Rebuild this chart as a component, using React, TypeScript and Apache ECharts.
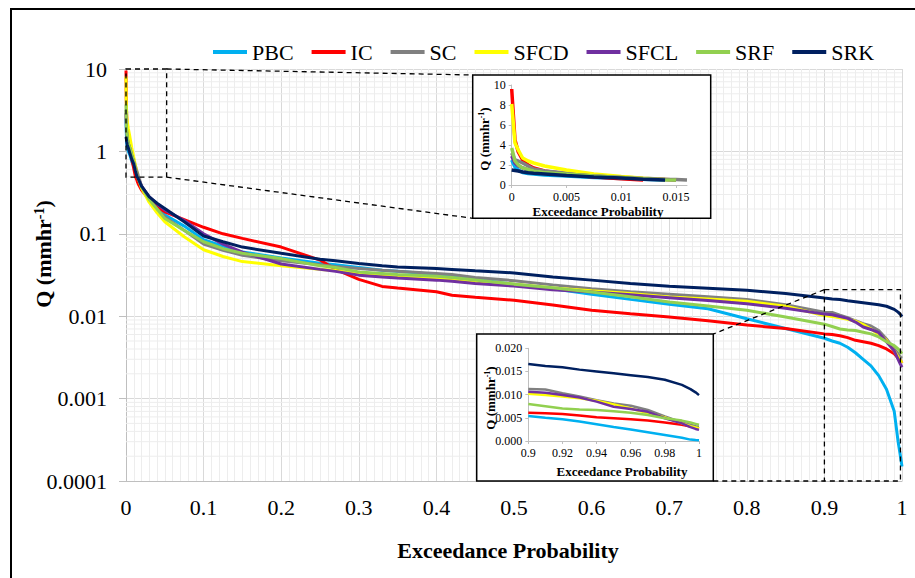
import React, { useEffect, useRef } from 'react';
import * as echarts from 'echarts';

// Flow duration curves: exceedance probability vs. discharge Q (mm/hr)
const SERIES_NAMES = ['PBC', 'IC', 'SC', 'SFCD', 'SFCL', 'SRF', 'SRK'];
const SERIES_COLORS = ['#00B0F0', '#FF0000', '#808080', '#FFFF00', '#7030A0', '#92D050', '#002060'];

const prob = [
  0, 0.0003, 0.0006, 0.001, 0.0015, 0.002, 0.003, 0.005, 0.0075, 0.01,
  0.012, 0.014, 0.015, 0.016, 0.02, 0.03, 0.04, 0.05, 0.075, 0.1,
  0.125, 0.15, 0.2, 0.25, 0.27, 0.3, 0.33, 0.35, 0.4, 0.42,
  0.45, 0.5, 0.55, 0.6, 0.65, 0.7, 0.75, 0.8, 0.85, 0.9,
  0.91, 0.92, 0.93, 0.94, 0.95, 0.96, 0.97, 0.98, 0.99, 0.995,
  0.998, 1.0,
];

const qPBC = [
  2.5, 1.8, 1.5, 1.25, 1.15, 1.1, 1.0, 0.9, 0.75, 0.66,
  0.57, 0.5, 0.48, 0.46, 0.37, 0.27, 0.22, 0.17, 0.124, 0.085,
  0.071, 0.06, 0.051, 0.044, 0.042, 0.039, 0.036, 0.035, 0.032, 0.0305,
  0.028, 0.0245, 0.0215, 0.0185, 0.016, 0.014, 0.0123, 0.0093, 0.0071, 0.0054,
  0.005, 0.0047, 0.0042, 0.0036, 0.003, 0.0025, 0.0019, 0.0013, 0.0007, 0.0003,
  0.0002, 0.00015,
];
const qIC = [
  9.6, 4.5, 3.3, 2.5, 2.0, 1.7, 1.4, 1.1, 0.8, 0.62,
  0.5, 0.45, 0.42, 0.4, 0.34, 0.26, 0.21, 0.185, 0.149, 0.12,
  0.1, 0.088, 0.069, 0.048, 0.037, 0.028, 0.023, 0.022, 0.0198, 0.018,
  0.017, 0.0156, 0.0137, 0.0118, 0.0107, 0.0098, 0.0088, 0.0078, 0.0071, 0.0061,
  0.006, 0.0058, 0.0055, 0.0051, 0.0049, 0.0047, 0.0044, 0.004, 0.0035, 0.0031,
  0.0029, 0.0027,
];
const qSC = [
  3.2, 2.5, 2.4, 2.2, 1.9, 1.6, 1.4, 1.2, 0.95, 0.8,
  0.67, 0.58, 0.54, 0.5, 0.38, 0.25, 0.2, 0.16, 0.11, 0.075,
  0.063, 0.055, 0.047, 0.042, 0.04, 0.038, 0.036, 0.035, 0.033, 0.032,
  0.0295, 0.027, 0.024, 0.0216, 0.0198, 0.0185, 0.0172, 0.0159, 0.0138, 0.0112,
  0.0111, 0.0103, 0.0096, 0.0088, 0.0081, 0.0076, 0.0067, 0.0053, 0.004, 0.0035,
  0.0032, 0.0031,
];
const qSFCD = [
  8.1, 4.2, 3.5, 2.7, 2.4, 2.2, 1.9, 1.5, 1.1, 0.85,
  0.68, 0.56, 0.5, 0.47, 0.36, 0.24, 0.18, 0.14, 0.092, 0.064,
  0.053, 0.046, 0.041, 0.037, 0.036, 0.0325, 0.031, 0.03, 0.0285, 0.028,
  0.0265, 0.0245, 0.022, 0.0203, 0.0188, 0.0171, 0.0162, 0.0152, 0.0132, 0.0102,
  0.0099, 0.0096, 0.0092, 0.0087, 0.0079, 0.007, 0.006, 0.0051, 0.0038, 0.0032,
  0.0029, 0.0027,
];
const qSFCL = [
  2.9, 2.2, 1.9, 1.7, 1.5, 1.4, 1.25, 1.1, 0.9, 0.75,
  0.63, 0.55, 0.5, 0.47, 0.38, 0.28, 0.23, 0.195, 0.145, 0.1,
  0.075, 0.06, 0.043, 0.037, 0.035, 0.0315, 0.03, 0.029, 0.0274, 0.0265,
  0.025, 0.0232, 0.021, 0.0197, 0.0182, 0.0168, 0.0155, 0.0142, 0.0125, 0.0106,
  0.0104, 0.0099, 0.0094, 0.0085, 0.0074, 0.0069, 0.0063, 0.0049, 0.0038, 0.003,
  0.0026, 0.0024,
];
const qSRF = [
  3.7, 2.4, 2.0, 1.7, 1.55, 1.4, 1.25, 1.1, 0.9, 0.75,
  0.62, 0.52, 0.49, 0.46, 0.37, 0.26, 0.2, 0.153, 0.11, 0.08,
  0.066, 0.058, 0.05, 0.041, 0.039, 0.0345, 0.033, 0.032, 0.0305, 0.0295,
  0.0275, 0.0245, 0.0222, 0.0197, 0.0172, 0.0149, 0.0133, 0.0118, 0.0098, 0.008,
  0.0075, 0.007, 0.0068, 0.0067, 0.0064, 0.0061, 0.0056, 0.0049, 0.0044, 0.004,
  0.0037, 0.0035,
];
const qSRK = [
  1.5, 1.45, 1.4, 1.3, 1.22, 1.17, 1.1, 0.95, 0.8, 0.7,
  0.58, 0.5, 0.48, 0.46, 0.38, 0.28, 0.235, 0.203, 0.14, 0.094,
  0.08, 0.069, 0.058, 0.049, 0.047, 0.0435, 0.041, 0.0395, 0.038, 0.037,
  0.0355, 0.0335, 0.03, 0.0274, 0.025, 0.0231, 0.0218, 0.0206, 0.0188, 0.0166,
  0.0162, 0.0159, 0.0154, 0.015, 0.0146, 0.0142, 0.0138, 0.0132, 0.0121, 0.0112,
  0.0105, 0.0099,
];
const SERIES_Q = [qPBC, qIC, qSC, qSFCD, qSFCL, qSRF, qSRK];

// Axis ranges and tick labels
const MAIN_Y_RANGE = [0.0001, 10];
const MAIN_X_TICKS = [0, 0.1, 0.2, 0.3, 0.4, 0.5, 0.6, 0.7, 0.8, 0.9, 1];
const HIGH_X_TICKS = [0, 0.005, 0.01, 0.015];
const HIGH_Y_TICKS = [0, 2, 4, 6, 8, 10];
const LOW_X_TICKS = [0.9, 0.92, 0.94, 0.96, 0.98, 1];
const LOW_Y_TICKS = [0, 0.005, 0.01, 0.015, 0.02];

// Zoomed windows: [pMin, pMax, qMin, qMax]
const HIGH_FLOW_WINDOW = [0, 0.0524, 0.487, 10];
const LOW_FLOW_WINDOW = [0.9, 0.998, 0.0001, 0.021];

const FONT = "'Liberation Serif', 'Times New Roman', Times, serif";
const AXIS_GRAY = '#bfbfbf';

const pairs = (q: number[]) => prob.map((p, i) => [p, q[i]]);

export default function App() {
  const ref = useRef<HTMLDivElement>(null);

  useEffect(() => {
    if (!ref.current) return;
    const chart = echarts.init(ref.current, undefined, { renderer: 'svg' });

    const minorLog: number[][] = [];
    for (let e = -4; e < 1; e++) {
      for (let m = 2; m <= 9; m++) minorLog.push([0, m * Math.pow(10, e)]);
    }

    const fmt = (v: number, d: number) => String(parseFloat(Number(v).toFixed(d)));

    const mainSeries = SERIES_NAMES.map((name, i) => ({
      name,
      type: 'line',
      xAxisIndex: 0,
      yAxisIndex: 0,
      data: pairs(SERIES_Q[i]),
      symbol: 'none',
      showSymbol: false,
      lineStyle: { color: SERIES_COLORS[i], width: 3 },
      itemStyle: { color: SERIES_COLORS[i] },
      z: 3,
    }));
    const highSeries = SERIES_NAMES.map((name, i) => ({
      name,
      type: 'line',
      xAxisIndex: 1,
      yAxisIndex: 1,
      data: pairs(SERIES_Q[i]).filter(([p, q]) => p <= 0.016 && q >= 0.49),
      symbol: 'none',
      showSymbol: false,
      lineStyle: { color: SERIES_COLORS[i], width: 3.5 },
      itemStyle: { color: SERIES_COLORS[i] },
      z: 22,
    }));
    const lowSeries = SERIES_NAMES.map((name, i) => ({
      name,
      type: 'line',
      xAxisIndex: 2,
      yAxisIndex: 2,
      data: pairs(SERIES_Q[i]).filter(([p]) => p >= 0.9),
      symbol: 'none',
      showSymbol: false,
      lineStyle: { color: SERIES_COLORS[i], width: 2.5 },
      itemStyle: { color: SERIES_COLORS[i] },
      z: 22,
    }));

    const insetAxisCommon = {
      z: 20,
      axisLine: { show: true, lineStyle: { color: AXIS_GRAY, width: 1 } },
      axisTick: { show: true, length: 3, lineStyle: { color: AXIS_GRAY } },
      splitLine: { show: false },
    };
    const insetLabel = { fontFamily: FONT, fontSize: 12, color: '#000' };

    chart.setOption({
      animation: false,
      backgroundColor: '#fff',
      legend: {
        data: SERIES_NAMES,
        left: 208,
        top: 36,
        icon: 'rect',
        itemWidth: 34,
        itemHeight: 4,
        itemGap: 18,
        textStyle: { fontFamily: FONT, fontSize: 22, color: '#000' },
      },
      grid: [
        { left: 126, top: 69, width: 776, height: 412 },
        { left: 511.7, top: 85, width: 175.3, height: 100, z: 20 },
        { left: 528.3, top: 348.3, width: 170.7, height: 92.7, z: 20 },
      ],
      xAxis: [
        {
          type: 'value',
          gridIndex: 0,
          min: MAIN_X_TICKS[0],
          max: MAIN_X_TICKS[MAIN_X_TICKS.length - 1],
          interval: 0.1,
          axisLine: { show: true, onZero: false, lineStyle: { color: AXIS_GRAY } },
          axisTick: { show: false },
          axisLabel: {
            fontFamily: FONT, fontSize: 22, color: '#000', margin: 15,
            formatter: (v: number) => fmt(v, 1),
          },
          splitLine: { show: true, lineStyle: { color: '#d9d9d9', width: 1 } },
          minorTick: { show: false, splitNumber: 10 },
          minorSplitLine: { show: true, lineStyle: { color: '#ededed', width: 1 } },
        },
        {
          ...insetAxisCommon,
          type: 'value',
          gridIndex: 1,
          min: HIGH_X_TICKS[0],
          max: 0.016,
          interval: 0.005,
          axisLabel: { ...insetLabel, margin: 6, showMaxLabel: false, formatter: (v: number) => fmt(v, 3) },
        },
        {
          ...insetAxisCommon,
          type: 'value',
          gridIndex: 2,
          min: LOW_X_TICKS[0],
          max: LOW_X_TICKS[LOW_X_TICKS.length - 1],
          interval: 0.02,
          axisLabel: { ...insetLabel, margin: 6, formatter: (v: number) => fmt(v, 2) },
        },
      ],
      yAxis: [
        {
          type: 'log',
          logBase: 10,
          gridIndex: 0,
          min: MAIN_Y_RANGE[0],
          max: MAIN_Y_RANGE[1],
          axisLine: { show: true, lineStyle: { color: AXIS_GRAY } },
          axisTick: { show: true, length: 7, lineStyle: { color: AXIS_GRAY } },
          axisLabel: {
            fontFamily: FONT, fontSize: 22, color: '#000', margin: 19,
            formatter: (v: number) => String(parseFloat(Number(v).toPrecision(3))),
          },
          splitLine: { show: true, lineStyle: { color: '#d9d9d9', width: 1 } },
        },
        {
          ...insetAxisCommon,
          type: 'value',
          gridIndex: 1,
          min: HIGH_Y_TICKS[0],
          max: HIGH_Y_TICKS[HIGH_Y_TICKS.length - 1],
          interval: 2,
          axisLabel: { ...insetLabel, margin: 6 },
        },
        {
          ...insetAxisCommon,
          type: 'value',
          gridIndex: 2,
          min: LOW_Y_TICKS[0],
          max: LOW_Y_TICKS[LOW_Y_TICKS.length - 1],
          interval: 0.005,
          axisLabel: { ...insetLabel, margin: 6, formatter: (v: number) => Number(v).toFixed(3) },
        },
      ],
      series: [
        {
          type: 'custom',
          xAxisIndex: 0,
          yAxisIndex: 0,
          silent: true,
          z: 1,
          data: minorLog,
          renderItem: (_params: any, api: any) => {
            const v = api.value(1);
            const a = api.coord([0, v]);
            const b = api.coord([1, v]);
            return {
              type: 'line',
              shape: { x1: a[0], y1: a[1], x2: b[0], y2: b[1] },
              style: { stroke: '#ededed', lineWidth: 1 },
            };
          },
        },
        ...mainSeries,
        ...highSeries,
        ...lowSeries,
      ],
    });

    // Dashed zoom windows and connectors, placed through the main axes
    const px = (p: number, q: number) => chart.convertToPixel({ gridIndex: 0 }, [p, q]) as number[];
    const h0 = px(HIGH_FLOW_WINDOW[0], HIGH_FLOW_WINDOW[3]);
    const h1 = px(HIGH_FLOW_WINDOW[1], HIGH_FLOW_WINDOW[2]);
    const l0 = px(LOW_FLOW_WINDOW[0], LOW_FLOW_WINDOW[3]);
    const l1 = px(LOW_FLOW_WINDOW[1], LOW_FLOW_WINDOW[2]);

    const box1 = { x: 472.7, y: 75, w: 238, h: 143.3 };
    const box2 = { x: 476.7, y: 334, w: 236.6, h: 147 };
    const dash = { stroke: '#000', lineWidth: 1.3, lineDash: [5, 4], fill: 'none' };
    const titleStyle = { fontFamily: FONT, fontWeight: 'bold', fill: '#000' };

    chart.setOption({
      graphic: [
        {
          type: 'rect', silent: true, z: 30,
          shape: { x: 11, y: 9, width: 960, height: 620 },
          style: { fill: 'none', stroke: '#000', lineWidth: 2 },
        },
        {
          type: 'rect', silent: true, z: 15,
          shape: { x: h0[0], y: h0[1], width: h1[0] - h0[0], height: h1[1] - h0[1] },
          style: dash,
        },
        { type: 'line', silent: true, z: 15, shape: { x1: h1[0], y1: h0[1], x2: box1.x, y2: box1.y }, style: dash },
        { type: 'line', silent: true, z: 15, shape: { x1: h1[0], y1: h1[1], x2: box1.x, y2: box1.y + box1.h }, style: dash },
        {
          type: 'rect', silent: true, z: 15,
          shape: { x: l0[0], y: l0[1], width: l1[0] - l0[0], height: l1[1] - l0[1] },
          style: dash,
        },
        { type: 'line', silent: true, z: 15, shape: { x1: l0[0], y1: l0[1], x2: box2.x + box2.w, y2: box2.y }, style: dash },
        { type: 'line', silent: true, z: 15, shape: { x1: box2.x + box2.w, y1: l1[1], x2: l0[0], y2: l1[1] }, style: dash },
        {
          type: 'rect', silent: true, z: 16,
          shape: { x: box1.x, y: box1.y, width: box1.w, height: box1.h },
          style: { fill: '#fff', stroke: '#000', lineWidth: 1.5 },
        },
        {
          type: 'rect', silent: true, z: 16,
          shape: { x: box2.x, y: box2.y, width: box2.w, height: box2.h },
          style: { fill: '#fff', stroke: '#000', lineWidth: 1.5 },
        },
        // axis titles
        {
          type: 'text', silent: true, z: 30, x: 508, y: 550,
          style: { ...titleStyle, text: 'Exceedance Probability', fontSize: 22, align: 'center', verticalAlign: 'middle' },
        },
        {
          type: 'text', silent: true, z: 30, x: 43, y: 254, rotation: Math.PI / 2,
          style: {
            ...titleStyle, text: 'Q (mmhr{s|-1})', fontSize: 22, align: 'center', verticalAlign: 'middle',
            rich: { s: { fontFamily: FONT, fontWeight: 'bold', fontSize: 14, verticalAlign: 'top' } },
          },
        },
        {
          type: 'text', silent: true, z: 30, x: 598, y: 211,
          style: { ...titleStyle, text: 'Exceedance Probability', fontSize: 13, align: 'center', verticalAlign: 'middle' },
        },
        {
          type: 'text', silent: true, z: 30, x: 484, y: 139, rotation: Math.PI / 2,
          style: {
            ...titleStyle, text: 'Q (mmhr{s|-1})', fontSize: 13, align: 'center', verticalAlign: 'middle',
            rich: { s: { fontFamily: FONT, fontWeight: 'bold', fontSize: 8, verticalAlign: 'top' } },
          },
        },
        {
          type: 'text', silent: true, z: 30, x: 622, y: 471,
          style: { ...titleStyle, text: 'Exceedance Probability', fontSize: 13, align: 'center', verticalAlign: 'middle' },
        },
        {
          type: 'text', silent: true, z: 30, x: 490, y: 398, rotation: Math.PI / 2,
          style: {
            ...titleStyle, text: 'Q (mmhr{s|-1})', fontSize: 13, align: 'center', verticalAlign: 'middle',
            rich: { s: { fontFamily: FONT, fontWeight: 'bold', fontSize: 8, verticalAlign: 'top' } },
          },
        },
      ],
    });

    return () => chart.dispose();
  }, []);

  return (
    <div
      ref={ref}
      style={{ position: 'absolute', left: 0, top: 0, width: 915, height: 578 }}
    />
  );
}
